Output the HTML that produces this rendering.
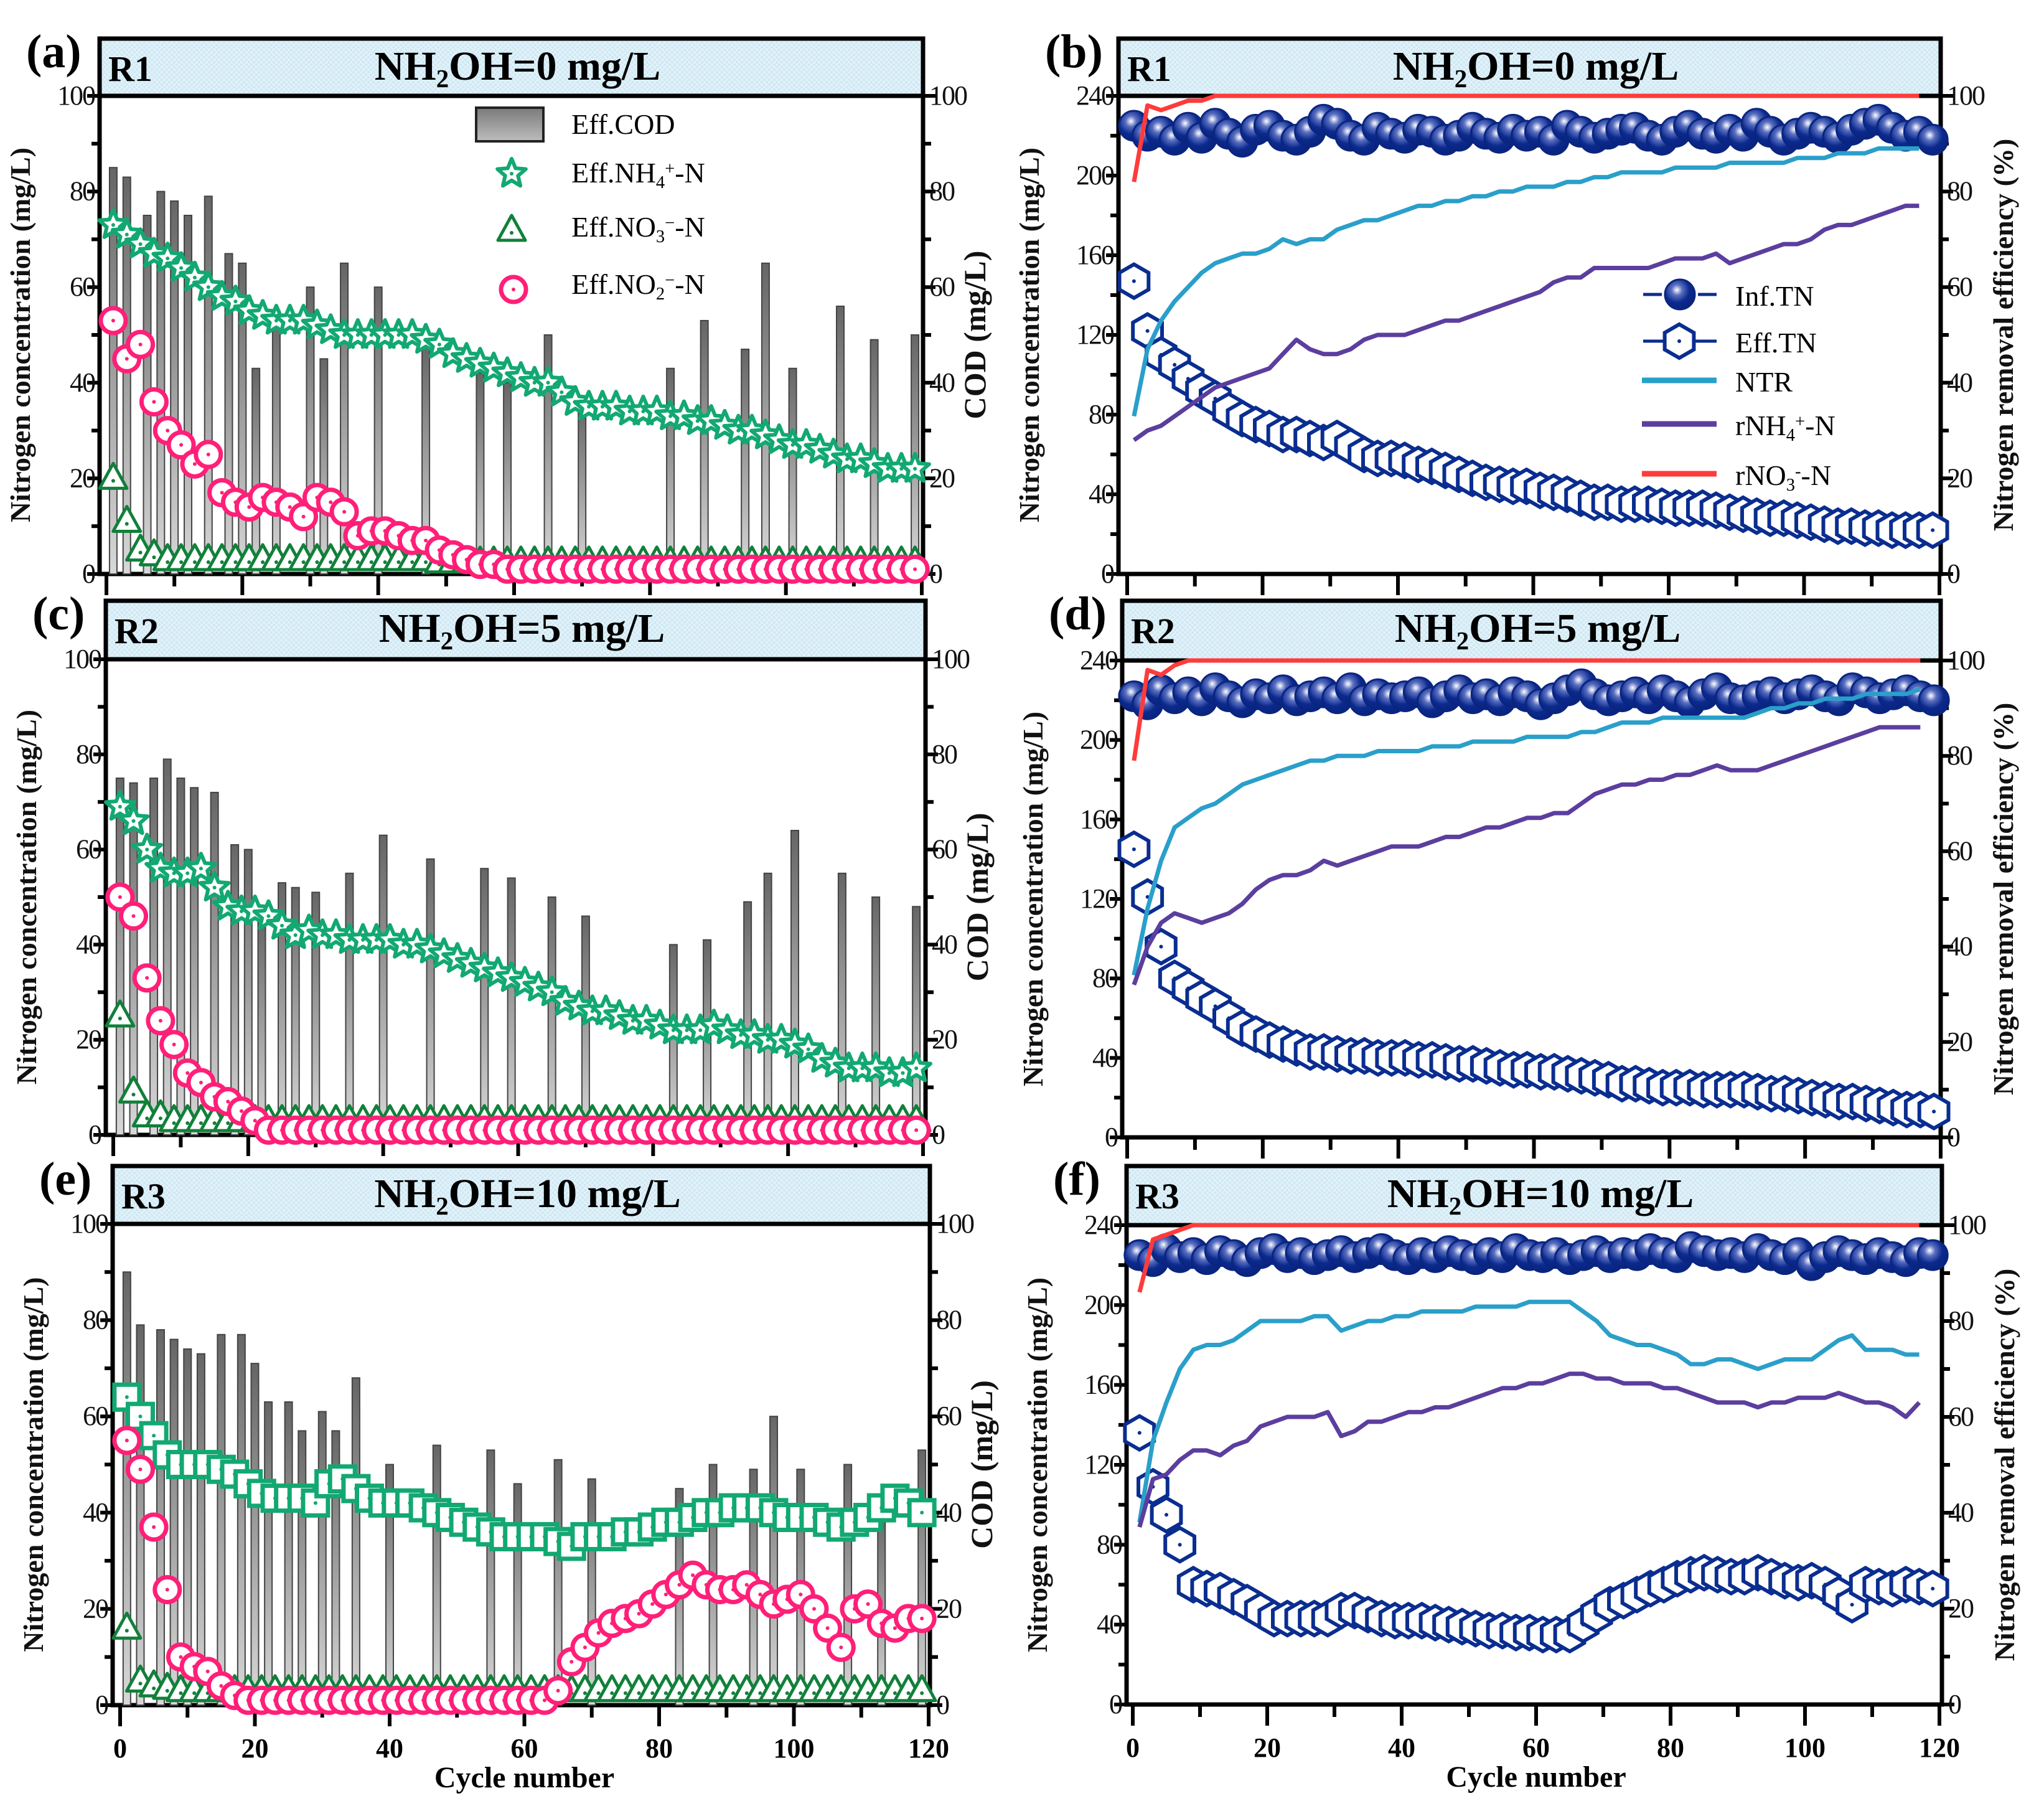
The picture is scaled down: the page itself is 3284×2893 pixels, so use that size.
<!DOCTYPE html>
<html><head><meta charset="utf-8">
<style>
html,body{margin:0;padding:0;background:#fff;}
svg{display:block;font-family:"Liberation Serif","DejaVu Serif",serif;}
</style></head>
<body>
<svg id="chart" width="3284" height="2893" viewBox="0 0 3284 2893" xmlns="http://www.w3.org/2000/svg">
<defs>
<linearGradient id="barGrad" x1="0" y1="0" x2="0" y2="1"><stop offset="0" stop-color="#666"/><stop offset="1" stop-color="#d8d8d8"/></linearGradient>
<linearGradient id="legGrad" x1="0" y1="0" x2="0" y2="1"><stop offset="0" stop-color="#7a7a7a"/><stop offset="1" stop-color="#bdbdbd"/></linearGradient>
<radialGradient id="sphere" cx="0.4" cy="0.35" r="0.6"><stop offset="0" stop-color="#ffffff"/><stop offset="0.3" stop-color="#5a6fc0"/><stop offset="0.7" stop-color="#0b2a8e"/><stop offset="1" stop-color="#0a2580"/></radialGradient>
<pattern id="hatch" width="8" height="8" patternUnits="userSpaceOnUse"><rect width="8" height="8" fill="#cfe8f4"/><path d="M0 8L8 0M0 0L8 8" stroke="#e6f4fa" stroke-width="1.4"/></pattern>
</defs>
</svg>
<script>
// ---------- shared categories ----------
const cycles = [1,3,5,7,9,11,13,15,17,19,21,23,25,27,29,31,33,35,37,39,41,43,45,47,49,51,53,55,57,59,61,63,65,67,69,71,73,75,77,79,81,83,85,87,89,91,93,95,97,99,101,103,105,107,109,111,113,115,117,119];
const xTicks = [0,20,40,60,80,100,120];
const leftTicks = [0,20,40,60,80,100];
const tnTicks = [0,40,80,120,160,200,240];
const pctTicks = [0,20,40,60,80,100];

// ---------- panel a (R1, 0 mg/L) ----------
const codCycA = [1,3,6,8,10,12,15,18,20,22,25,30,32,35,40,47,55,59,65,70,83,88,94,97,101,108,113,119];
const codValA = [85,83,75,80,78,75,79,67,65,43,55,60,45,65,60,48,42,40,50,35,43,53,47,65,43,56,49,50];
const nh4A = [73,71,69,67,66,64,62,60,58,57,55,54,53,53,53,52,51,50,50,50,50,50,50,49,48,46,45,44,43,42,41,40,40,38,36,35,35,35,34,34,34,33,33,32,32,31,30,30,29,28,27,27,26,25,24,24,23,22,22,22];
const no3A = [20,11,5,4,3,3,3,3,3,3,3,3,3,3,3,3,3,3,3,3,3,3,3,3,2.5,2.5,2.5,2.5,2.5,2.5,2.5,2.5,2.5,2.5,2.5,2.5,2.5,2.5,2.5,2.5,2.5,2.5,2.5,2.5,2.5,2.5,2.5,2.5,2.5,2.5,2.5,2.5,2.5,2.5,2.5,2.5,2.5,2.5,2.5,2.5];
const no2A = [53,45,48,36,30,27,23,25,17,15,14,16,15,14,12,16,15,13,8,9,9,8,7,7,5,4,3,2,2,1,1,1,1,1,1,1,1,1,1,1,1,1,1,1,1,1,1,1,1,1,1,1,1,1,1,1,1,1,1,1];

// ---------- panel c (R2, 5 mg/L) ----------
const codCycC = [1,3,6,8,10,12,15,18,20,22,25,27,30,35,40,47,55,59,65,70,83,88,94,97,101,108,113,119];
const codValC = [75,74,75,79,75,73,72,61,60,45,53,52,51,55,63,58,56,54,50,46,40,41,49,55,64,55,50,48];
const nh4C = [69,66,60,56,55,55,56,52,48,47,47,46,44,42,43,42,42,41,41,41,41,40,40,39,38,37,36,35,34,33,32,31,30,28,27,26,26,25,24,24,23,22,22,22,23,22,21,21,20,20,19,18,16,15,14,14,14,13,13,14];
const no3C = [25,9,4,4,3,3,3,3,3,3,3,3,3,3,3,3,3,3,3,3,3,3,3,3,3,3,3,3,3,3,3,3,3,3,3,3,3,3,3,3,3,3,3,3,3,3,3,3,3,3,3,3,3,3,3,3,3,3,3,3];
const no2C = [50,46,33,24,19,13,11,8,7,5,3,1,1,1,1,1,1,1,1,1,1,1,1,1,1,1,1,1,1,1,1,1,1,1,1,1,1,1,1,1,1,1,1,1,1,1,1,1,1,1,1,1,1,1,1,1,1,1,1,1];

// ---------- panel e (R3, 10 mg/L) ----------
const codCycE = [1,3,6,8,10,12,15,18,20,22,25,27,30,32,35,40,47,55,59,65,70,83,88,94,97,101,108,113,119];
const codValE = [90,79,78,76,74,73,77,77,71,63,63,57,61,57,68,50,54,53,46,51,47,45,50,49,60,49,50,40,53];
const nh4E = [64,60,56,52,50,50,50,49,48,46,44,43,43,43,42,46,47,45,43,42,42,42,41,40,39,38,37,36,35,35,35,35,34,33,35,35,35,36,36,37,38,38,39,40,40,41,41,41,40,39,39,39,38,37,38,39,41,43,42,40];
const no3E = [16,5,4,3.5,3,3,3,3,3,3,3,3,3,3,3,3,3,3,3,3,3,3,3,3,3,3,3,3,3,3,3,3,3,3,3,3,3,3,3,3,3,3,3,3,3,3,3,3,3,3,3,3,3,3,3,3,3,3,3,3];
const no2E = [55,49,37,24,10,8,7,4,2,1,1,1,1,1,1,1,1,1,1,1,1,1,1,1,1,1,1,1,1,1,1,1,3,9,12,15,17,18,19,21,23,25,27,25,24,24,25,23,21,22,23,20,16,12,20,21,17,16,18,18];

// ---------- panel b (R1 TN) ----------
const infB = [225,220,222,218,224,219,226,221,217,223,225,220,218,222,228,226,220,218,224,221,219,223,222,218,220,224,221,219,223,220,222,218,225,222,219,221,223,224,220,218,222,225,221,219,223,220,226,222,218,221,224,222,219,223,226,228,224,220,222,218];
const effB = [147,122,110,105,98,92,88,82,78,75,73,70,70,68,66,68,64,60,58,58,57,55,54,52,50,48,46,45,44,44,42,41,40,38,36,36,35,35,35,34,33,33,33,32,31,30,29,28,28,27,26,25,24,24,23,23,22,22,22,22];
const ntrB = [33,47,53,57,60,63,65,66,67,67,68,70,69,70,70,72,73,74,74,75,76,77,77,78,78,79,79,80,80,81,81,81,82,82,83,83,84,84,84,84,85,85,85,85,86,86,86,86,86,87,87,87,88,88,88,89,89,89,89];
const rnh4B = [28,30,31,33,35,37,39,40,41,42,43,46,49,47,46,46,47,49,50,50,50,51,52,53,53,54,55,56,57,58,59,61,62,62,64,64,64,64,64,65,66,66,66,67,65,66,67,68,69,69,70,72,73,73,74,75,76,77,77];
const rno3B = [82,98,97,98,99,99,100,100,100,100,100,100,100,100,100,100,100,100,100,100,100,100,100,100,100,100,100,100,100,100,100,100,100,100,100,100,100,100,100,100,100,100,100,100,100,100,100,100,100,100,100,100,100,100,100,100,100,100,100];

// ---------- panel d (R2 TN) ----------
const infD = [222,218,225,221,224,220,226,222,219,223,221,225,220,222,224,221,226,220,223,221,222,224,219,222,225,221,223,220,224,222,218,221,225,228,223,220,222,224,221,225,222,219,223,226,221,220,222,224,221,223,225,222,220,226,224,221,223,225,222,220];
const effD = [145,121,96,80,75,70,66,60,55,52,49,47,45,43,43,42,41,41,40,40,40,39,39,38,37,37,36,35,34,34,33,33,32,31,30,29,27,27,26,25,25,25,24,24,24,24,23,22,22,21,20,19,18,18,17,16,15,14,14,13];
const ntrD = [34,48,58,65,67,69,70,72,74,75,76,77,78,79,79,80,80,80,81,81,81,81,82,82,82,83,83,83,83,84,84,84,84,85,85,86,87,87,87,88,88,88,88,88,88,88,89,90,90,91,91,92,92,92,93,93,93,93,94];
const rnh4D = [32,40,45,47,46,45,46,47,49,52,54,55,55,56,58,57,58,59,60,61,61,61,62,63,63,64,65,65,66,67,67,68,68,70,72,73,74,74,75,75,76,76,77,78,77,77,77,78,79,80,81,82,83,84,85,86,86,86,86];
const rno3D = [79,98,97,99,100,100,100,100,100,100,100,100,100,100,100,100,100,100,100,100,100,100,100,100,100,100,100,100,100,100,100,100,100,100,100,100,100,100,100,100,100,100,100,100,100,100,100,100,100,100,100,100,100,100,100,100,100,100,100];

// ---------- panel f (R3 TN) ----------
const infF = [225,222,228,224,226,223,227,225,222,226,228,224,226,223,225,227,224,226,228,225,223,226,224,227,225,223,226,224,228,225,224,226,223,225,227,224,226,225,228,226,224,229,227,225,226,224,228,225,223,226,220,224,227,225,223,226,224,222,226,225];
const effF = [136,109,95,80,60,58,57,54,51,47,43,43,43,43,43,47,47,45,43,42,42,42,41,40,39,38,37,37,36,36,35,35,35,40,45,50,52,55,58,60,63,65,66,65,64,64,66,64,62,61,62,60,55,50,60,59,58,60,59,58];
const ntrF = [38,55,63,70,74,75,75,76,78,80,80,80,80,81,81,78,79,80,80,81,81,82,82,82,82,83,83,83,83,84,84,84,84,82,80,77,76,75,75,74,73,71,71,72,72,71,70,71,72,72,72,74,76,77,74,74,74,73,73];
const rnh4F = [37,47,48,51,53,53,52,54,55,58,59,60,60,60,61,56,57,59,59,60,61,61,62,62,63,64,65,66,66,67,67,68,69,69,68,68,67,67,67,66,66,65,64,63,63,63,62,63,63,64,64,64,65,64,63,63,62,60,63];
const rno3F = [86,97,98,99,100,100,100,100,100,100,100,100,100,100,100,100,100,100,100,100,100,100,100,100,100,100,100,100,100,100,100,100,100,100,100,100,100,100,100,100,100,100,100,100,100,100,100,100,100,100,100,100,100,100,100,100,100,100,100];

// ---------- drawing ----------
const NS = 'http://www.w3.org/2000/svg';
const svg = document.getElementById('chart');
function mk(tag, attrs, parent){ const e=document.createElementNS(NS,tag); for(const k in attrs) e.setAttribute(k,attrs[k]); (parent||svg).appendChild(e); return e; }

const GREEN='#12a872', DGREEN='#11803a', PINK='#ff1f78', NAVY='#0a2d90', NTRC='#2a9fca', RNH='#5b3e9e', RNO='#ff3b3b';

const panels = [
 {id:'a', L:160,R:1483,hT:62,pT:154,pB:922,x0:171,x1:1481, kind:'left', reactor:'R1', dose:'0', cod:[codCycA,codValA], nh4:nh4A, no3:no3A, no2:no2A, nh4Shape:'star', legend:true, xlab:false},
 {id:'b', L:1797,R:3118,hT:62,pT:154,pB:922,x0:1811,x1:3116, kind:'right', reactor:'R1', dose:'0', inf:infB, eff:effB, ntr:ntrB, rnh:rnh4B, rno:rno3B, legend:true, xlab:false},
 {id:'c', L:170,R:1487,hT:965,pT:1059,pB:1823,x0:182,x1:1483, kind:'left', reactor:'R2', dose:'5', cod:[codCycC,codValC], nh4:nh4C, no3:no3C, no2:no2C, nh4Shape:'star', legend:false, xlab:false},
 {id:'d', L:1803,R:3118,hT:965,pT:1061,pB:1827,x0:1811,x1:3118, kind:'right', reactor:'R2', dose:'5', inf:infD, eff:effD, ntr:ntrD, rnh:rnh4D, rno:rno3D, legend:false, xlab:false},
 {id:'e', L:181,R:1494,hT:1873,pT:1966,pB:2739,x0:193,x1:1492, kind:'left', reactor:'R3', dose:'10', cod:[codCycE,codValE], nh4:nh4E, no3:no3E, no2:no2E, nh4Shape:'square', legend:false, xlab:true},
 {id:'f', L:1810,R:3120,hT:1873,pT:1968,pB:2738,x0:1820,x1:3116, kind:'right', reactor:'R3', dose:'10', inf:infF, eff:effF, ntr:ntrF, rnh:rnh4F, rno:rno3F, legend:false, xlab:true}
];

function starPts(cx,cy,r){ let p=[]; for(let i=0;i<10;i++){ const a=-Math.PI/2+i*Math.PI/5; const rr=i%2?r*0.45:r; p.push((cx+rr*Math.cos(a)).toFixed(1)+','+(cy+rr*Math.sin(a)).toFixed(1)); } return p.join(' '); }
function hexPts(cx,cy,r){ let p=[]; for(let i=0;i<6;i++){ const a=-Math.PI/2+i*Math.PI/3; p.push((cx+r*Math.cos(a)).toFixed(1)+','+(cy+r*Math.sin(a)).toFixed(1)); } return p.join(' '); }

function marker(g, shape, cx, cy, color, name){
  let m;
  if(shape==='star'){ m=mk('polygon',{points:starPts(cx,cy,24),fill:'#fff',stroke:color,'stroke-width':6,'stroke-linejoin':'round'},g); }
  else if(shape==='square'){ m=mk('rect',{x:cx-20,y:cy-20,width:40,height:40,fill:'#fff',stroke:color,'stroke-width':7},g); }
  else if(shape==='tri'){ m=mk('polygon',{points:`${cx},${cy-24} ${cx+22},${cy+16} ${cx-22},${cy+16}`,fill:'#fff',stroke:color,'stroke-width':5,'stroke-linejoin':'round'},g); }
  else if(shape==='circ'){ m=mk('circle',{cx:cx,cy:cy,r:20,fill:'#fff',stroke:color,'stroke-width':7},g); }
  else if(shape==='sphere'){ m=mk('circle',{cx:cx,cy:cy,r:24,fill:'url(#sphere)',stroke:'#0a2580','stroke-width':3},g); }
  else if(shape==='hex'){ m=mk('polygon',{points:hexPts(cx,cy,27),fill:'#fff',stroke:color,'stroke-width':6},g); }
  
  
  if(shape!=='sphere'){ const d=mk('circle',{cx:cx,cy:shape==='tri'?cy+4:cy,r:3,fill:color},g);   }
  return m;
}

function subText(parent, x, y, size, parts, anchor, weight){
  const t=mk('text',{x:x,y:y,'font-size':size,'text-anchor':anchor||'start','font-weight':weight||'normal',fill:'#000'},parent);
  parts.forEach(p=>{ const s=mk('tspan',{},t); s.textContent=p[0]; if(p[1]==='sub'){ s.setAttribute('baseline-shift','-30%'); s.setAttribute('font-size',size*0.62);} if(p[1]==='sup'){ s.setAttribute('baseline-shift','45%'); s.setAttribute('font-size',size*0.62);} });
  return t;
}

panels.forEach(P=>{
  const g=mk('g',{});
  
  
  const xs=c=>P.x0+(c/120)*(P.x1-P.x0);
  const yMax = P.kind==='left'?100:240;
  const ys=v=>P.pB-(v/yMax)*(P.pB-P.pT);
  const yp=v=>P.pB-(v/100)*(P.pB-P.pT);

  const hdr=mk('rect',{x:P.L,y:P.hT,width:P.R-P.L,height:P.pT-P.hT,fill:'url(#hatch)',stroke:'#000','stroke-width':7},g);
   
  const rt=mk('text',{x:P.L+14,y:P.hT+68,'font-size':58,'font-weight':'bold',fill:'#000'},g); rt.textContent=P.reactor;
   
  const tt=subText(g,(P.L+P.R)/2+10,P.hT+66,66,[['NH'],['2','sub'],['OH='+P.dose+' mg/L']],'middle','bold');
   
  const pl=mk('text',{x:P.L-118,y:P.hT+46,'font-size':76,'font-weight':'bold',fill:'#000'},g); pl.textContent='('+P.id+')';
   

  const fr=mk('rect',{x:P.L,y:P.pT,width:P.R-P.L,height:P.pB-P.pT,fill:'none',stroke:'#000','stroke-width':7},g);
   

  for(let c=0;c<=120;c+=10){
    const major=c%20===0;
    const tk=mk('line',{x1:xs(c),x2:xs(c),y1:P.pB,y2:P.pB+(major?34:20),stroke:'#000','stroke-width':6},g);
     
  }
  if(P.xlab){
    xTicks.forEach(v=>{ const t=mk('text',{x:xs(v),y:P.pB+84,'font-size':44,'font-weight':'bold','text-anchor':'middle',fill:'#000'},g); t.textContent=v;   });
    const xt=mk('text',{x:(P.x0+P.x1)/2,y:P.pB+132,'font-size':48,'font-weight':'bold','text-anchor':'middle',fill:'#000'},g); xt.textContent='Cycle number';
     
  }

  const lt = P.kind==='left'?leftTicks:tnTicks;
  const step = P.kind==='left'?10:20;
  for(let v=0;v<=yMax;v+=step){
    const major=(v%(step*2))===0;
    const a=mk('line',{x1:P.L,x2:P.L-(major?20:13),y1:ys(v),y2:ys(v),stroke:'#000','stroke-width':6},g);
     
  }
  lt.forEach(v=>{ const t=mk('text',{x:P.L-8,y:ys(v)+14,'font-size':44,'text-anchor':'end',fill:'#111','letter-spacing':-2},g); t.textContent=v;   });
  for(let v=0;v<=100;v+=10){
    const major=v%20===0;
    const a=mk('line',{x1:P.R,x2:P.R+(major?20:13),y1:yp(v),y2:yp(v),stroke:'#000','stroke-width':6},g);
     
  }
  pctTicks.forEach(v=>{ const t=mk('text',{x:P.R+10,y:yp(v)+14,'font-size':44,fill:'#111','letter-spacing':-2},g); t.textContent=v;   });

  const cyM=(P.pT+P.pB)/2;
  const lx = P.kind==='left'?P.L-112:P.L-128;
  const yt=mk('text',{x:lx,y:cyM,'font-size':46,'font-weight':'bold','text-anchor':'middle',transform:`rotate(-90 ${lx} ${cyM})`,fill:'#111'},g);
  yt.textContent='Nitrogen concentration (mg/L)';
   
  const rx = P.kind==='left'?P.R+100:P.R+116;
  const y2t=mk('text',{x:rx,y:cyM,'font-size':P.kind==='left'?50:46,'font-weight':'bold','text-anchor':'middle',transform:`rotate(-90 ${rx} ${cyM})`,fill:'#111'},g);
  y2t.textContent = P.kind==='left'?'COD (mg/L)':'Nitrogen removal efficiency (%)';
   

  if(P.kind==='left'){
    const bg=mk('g',{},g);  
    P.cod[0].forEach((c,i)=>{
      const v=P.cod[1][i];
      const b=mk('rect',{x:xs(c)-6,y:ys(v),width:12,height:P.pB-ys(v),fill:'url(#barGrad)',stroke:'#444','stroke-width':2},bg);
       
    });
    const g1=mk('g',{},g);  
    cycles.forEach((c,i)=>marker(g1,P.nh4Shape,xs(c),ys(P.nh4[i]),GREEN,'nh4-point'));
    const g2=mk('g',{},g);  
    cycles.forEach((c,i)=>marker(g2,'tri',xs(c),ys(P.no3[i]),DGREEN,'no3-point'));
    const g3=mk('g',{},g);  
    cycles.forEach((c,i)=>marker(g3,'circ',xs(c),ys(P.no2[i]),PINK,'no2-point'));
  } else {
    const g1=mk('g',{},g);  
    cycles.forEach((c,i)=>marker(g1,'sphere',xs(c),ys(P.inf[i]),NAVY,'inf-tn-point'));
    const g2=mk('g',{},g);  
    cycles.forEach((c,i)=>marker(g2,'hex',xs(c),ys(P.eff[i]),NAVY,'eff-tn-point'));
    [[P.ntr,NTRC,'ntr-line'],[P.rnh,RNH,'rnh4-line'],[P.rno,RNO,'rno3-line']].forEach(s=>{
      const pts=s[0].map((v,i)=>xs(cycles[i]).toFixed(1)+','+yp(v).toFixed(1)).join(' ');
      const l=mk('polyline',{points:pts,fill:'none',stroke:s[1],'stroke-width':7,'stroke-linejoin':'round'},g);
       
    });
  }

  if(P.legend && P.kind==='left'){
    const lg=mk('g',{},g);  
    const box=mk('rect',{x:765,y:173,width:108,height:54,fill:'url(#legGrad)',stroke:'#222','stroke-width':4},lg);
     
    marker(lg,'star',822,279,GREEN,'legend-nh4-marker');
    marker(lg,'tri',822,370,DGREEN,'legend-no3-marker');
    marker(lg,'circ',825,465,PINK,'legend-no2-marker');
    const e1=subText(lg,918,215,46,[['Eff.COD']]);  
    const e2=subText(lg,918,293,46,[['Eff.NH'],['4','sub'],['+','sup'],['-N']]);  
    const e3=subText(lg,918,380,46,[['Eff.NO'],['3','sub'],['\u2212','sup'],['-N']]);  
    const e4=subText(lg,918,472,46,[['Eff.NO'],['2','sub'],['\u2212','sup'],['-N']]);  
  }
  if(P.legend && P.kind==='right'){
    const lg=mk('g',{},g);  
    const rows=[473,548,611,681,761];
    const l1=mk('line',{x1:2640,x2:2758,y1:rows[0],y2:rows[0],stroke:NAVY,'stroke-width':5,'stroke-dasharray':'30 58 30'},lg);  
    marker(lg,'sphere',2699,rows[0],NAVY,'legend-inf-marker');
    const l2=mk('line',{x1:2640,x2:2758,y1:rows[1],y2:rows[1],stroke:NAVY,'stroke-width':5},lg);  
    marker(lg,'hex',2698,rows[1],NAVY,'legend-eff-marker');
    [[rows[2],NTRC,'legend-ntr-line'],[rows[3],RNH,'legend-rnh4-line'],[rows[4],RNO,'legend-rno3-line']].forEach(r=>{
      const l=mk('line',{x1:2638,x2:2758,y1:r[0],y2:r[0],stroke:r[1],'stroke-width':9},lg);
       
    });
    const t1=subText(lg,2788,rows[0]+18,46,[['Inf.TN']]);  
    const t2=subText(lg,2788,rows[1]+18,46,[['Eff.TN']]);  
    const t3=subText(lg,2788,rows[2]+18,46,[['NTR']]);  
    const t4=subText(lg,2788,rows[3]+18,46,[['rNH'],['4','sub'],['+','sup'],['-N']]);  
    const t5=subText(lg,2788,rows[4]+18,46,[['rNO'],['3','sub'],['-','sup'],['-N']]);  
  }
});
</script>
</body></html>
